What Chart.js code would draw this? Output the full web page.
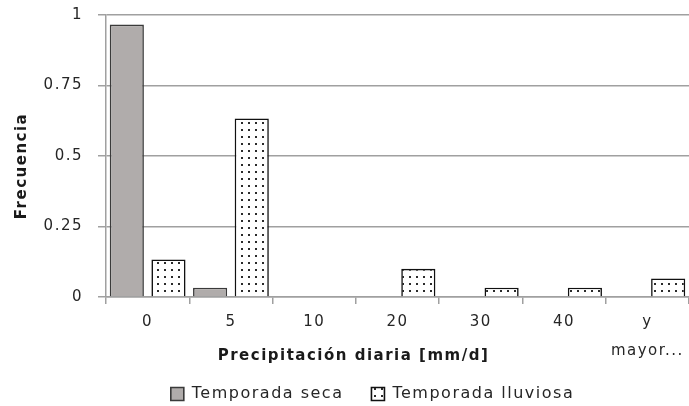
<!DOCTYPE html>
<html>
<head>
<meta charset="utf-8">
<script src="https://cdn.jsdelivr.net/npm/chart.js@4"></script>
<style>
  html, body { margin: 0; padding: 0; background: #fff; }
  #wrap { width: 689px; height: 406px; }
</style>
</head>
<body>
<div id="wrap"><canvas id="chart" width="689" height="406"></canvas></div>
<script>
// Data
const categories = ['0', '5', '10', '20', '30', '40', ['y', 'mayor...']];
const temporadaSeca = [0.966, 0.033, 0, 0, 0, 0, 0];
const temporadaLluviosa = [0.133, 0.633, 0, 0.1, 0.033, 0.033, 0.066];
const yTicks = [0, 0.25, 0.5, 0.75, 1];
const xTitle = 'Precipitación diaria [mm/d]';
const yTitle = 'Frecuencia';

const font = 'DejaVu Sans, Verdana, sans-serif';

// dotted fill for the rainy season
function makeDots() {
  const c = document.createElement('canvas');
  c.width = 7;
  c.height = 7;
  const g = c.getContext('2d');
  g.fillStyle = '#ffffff';
  g.fillRect(0, 0, 7, 7);
  g.fillStyle = '#2a2a2a';
  g.fillRect(3, 3, 2, 2);
  return document.getElementById('chart').getContext('2d').createPattern(c, 'repeat');
}

// Excel-like wide text spacing, legend box height, and the two axis titles
const spacing = {
  id: 'spacing',
  beforeLayout(chart) {
    chart.ctx.letterSpacing = '1.5px';
    const legend = chart.legend;
    if (legend && !legend._fixed) {
      const fit = legend.fit;
      legend.fit = function () {
        fit.call(this);
        this.height = 48;
      };
      legend._fixed = true;
    }
  },
  beforeDraw(chart) { chart.ctx.letterSpacing = '1.5px'; },
  afterLayout(chart) {
    // legend sits a bit right of centre in the original
    chart.legend.left += 28;
    chart.legend.right += 28;
  },
  afterDraw(chart) {
    const ctx = chart.ctx;
    const area = chart.chartArea;
    ctx.save();
    ctx.fillStyle = '#1a1a1a';
    ctx.font = 'bold 15px ' + font;
    ctx.textAlign = 'center';
    ctx.textBaseline = 'middle';
    ctx.fillText(xTitle, (area.left + area.right) / 2 - 44, area.bottom + 59);
    ctx.translate(22, (area.top + area.bottom) / 2 + 10);
    ctx.rotate(-Math.PI / 2);
    ctx.fillText(yTitle, 0, 0);
    ctx.restore();
  }
};

new Chart(document.getElementById('chart'), {
  type: 'bar',
  data: {
    labels: categories,
    datasets: [
      {
        label: 'Temporada seca',
        data: temporadaSeca,
        backgroundColor: '#b0acab',
        borderColor: '#3a3a3a',
        borderWidth: 1.6,
        borderSkipped: 'bottom'
      },
      {
        label: 'Temporada lluviosa',
        data: temporadaLluviosa,
        backgroundColor: makeDots(),
        borderColor: '#111111',
        borderWidth: 1.6,
        borderSkipped: 'bottom'
      }
    ]
  },
  options: {
    responsive: false,
    animation: false,
    devicePixelRatio: 1,
    layout: { padding: { top: 15, right: 0, left: 0, bottom: 0 } },
    datasets: {
      bar: { categoryPercentage: 1, barPercentage: 0.82 }
    },
    plugins: {
      legend: {
        position: 'bottom',
        labels: {
          color: '#262626',
          font: { family: font, size: 16 },
          boxWidth: 13,
          boxHeight: 13,
          padding: 28
        }
      },
      tooltip: { enabled: false }
    },
    scales: {
      x: {
        afterFit: scale => {
          scale.height = 61;
        },
        grid: {
          display: true,
          drawOnChartArea: false,
          color: '#a0a0a0',
          lineWidth: 1.5,
          tickLength: 7,
          offset: true
        },
        border: { color: '#a0a0a0', width: 1.5 },
        ticks: {
          color: '#262626',
          font: { family: font, size: 15, lineHeight: 1.9 },
          padding: 4,
          maxRotation: 0,
          autoSkip: false
        }
      },
      y: {
        min: 0,
        max: 1,
        afterBuildTicks: scale => {
          scale.ticks = yTicks.map(v => ({ value: v }));
        },
        afterFit: scale => {
          scale.width = 106;
          scale.paddingTop = 9;
          scale.paddingBottom = 9;
        },
        grid: {
          color: '#a0a0a0',
          lineWidth: 1.5,
          tickLength: 8
        },
        border: { color: '#a0a0a0', width: 1.5 },
        ticks: {
          color: '#262626',
          font: { family: font, size: 15 },
          padding: 15,
          callback: v => String(v)
        }
      }
    }
  },
  plugins: [spacing]
});
</script>
</body>
</html>
